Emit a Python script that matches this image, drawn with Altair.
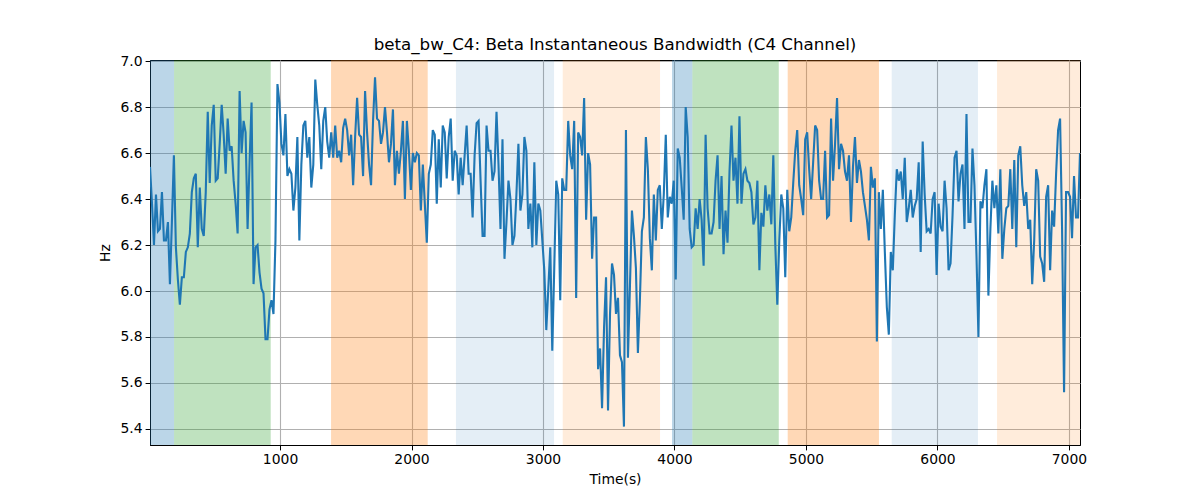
import altair as alt
import numpy as np
import pandas as pd

hz = [
    6.54, 6.38, 6.20, 6.42, 6.26, 6.27, 6.43, 6.22, 6.22, 6.30,
    6.03, 6.30, 6.59, 6.19, 6.05, 5.94, 6.06, 6.06, 6.17, 6.19,
    6.25, 6.43, 6.49, 6.51, 6.19, 6.45, 6.27, 6.24, 6.43, 6.78,
    6.47, 6.72, 6.81, 6.48, 6.49, 6.64, 6.81, 6.68, 6.51, 6.75,
    6.61, 6.63, 6.48, 6.38, 6.25, 6.87, 6.60, 6.74, 6.69, 6.27,
    6.56, 6.82, 6.03, 6.19, 6.20, 6.08, 6.01, 5.99, 5.79, 5.79,
    5.92, 5.96, 5.90, 6.22, 6.90, 6.82, 6.64,
    6.59, 6.77, 6.50, 6.53, 6.51, 6.35, 6.45, 6.67, 6.22, 6.55,
    6.72, 6.74, 6.58, 6.67, 6.45,
    6.55, 6.92, 6.81, 6.72, 6.53, 6.74, 6.80, 6.65, 6.58, 6.69,
    6.58, 6.72, 6.58, 6.61, 6.56, 6.71, 6.75, 6.70, 6.59, 6.68,
    6.46, 6.67, 6.84, 6.68, 6.67, 6.50, 6.87, 6.69, 6.55, 6.46,
    6.74, 6.93, 6.75, 6.74, 6.64, 6.69, 6.80, 6.69, 6.56, 6.64,
    6.79, 6.46, 6.61, 6.51, 6.61, 6.74, 6.40, 6.74, 6.61, 6.44,
    6.60, 6.56, 6.60, 6.59, 6.35, 6.55, 6.38, 6.21, 6.51, 6.55,
    6.70, 6.68, 6.38, 6.66, 6.45, 6.72, 6.69, 6.49, 6.67, 6.75,
    6.48, 6.61, 6.59, 6.42, 6.58, 6.46,
    6.59, 6.72, 6.51, 6.51, 6.32, 6.59, 6.73, 6.74, 6.48, 6.24,
    6.24, 6.72, 6.61, 6.61, 6.48, 6.52, 6.78, 6.55, 6.27, 6.66,
    6.14, 6.30, 6.48, 6.40, 6.20, 6.24, 6.42, 6.64, 6.35, 6.42,
    6.67, 6.61, 6.27, 6.38, 6.19, 6.56, 6.20, 6.38, 6.35, 6.22,
    6.09, 5.83, 6.01, 6.19, 5.74, 6.10, 6.48, 6.42, 5.96, 6.49,
    6.44, 6.44, 6.74, 6.59, 6.53, 6.74, 5.97, 6.69, 6.67, 6.59,
    6.84, 6.31, 6.60, 6.55, 6.14, 6.32, 6.32, 5.66, 5.75, 5.49,
    5.84, 6.06, 5.48, 5.90, 6.12, 6.07, 5.90, 5.97,
    5.72, 5.69, 5.41, 6.70, 5.71, 6.02, 6.35, 6.24, 6.10, 5.73,
    5.96, 6.26, 6.32, 6.67, 6.53, 6.23, 6.09, 6.42, 6.22, 6.44,
    6.46, 6.27, 6.42, 6.68, 6.32, 6.41, 6.38, 6.48, 6.05, 6.62,
    6.58, 6.45, 6.31, 6.80, 6.67, 6.27, 6.19, 6.20, 6.36, 6.27,
    6.40, 6.31, 6.11, 6.68, 6.36, 6.25, 6.25, 6.30, 6.48, 6.59,
    6.27, 6.50, 6.16, 6.35, 6.21, 6.52, 6.72, 6.48, 6.58, 6.38,
    6.76, 6.38, 6.51, 6.53, 6.48, 6.47, 6.43, 6.29, 6.32, 6.48,
    6.09, 6.34, 6.28, 6.46, 6.35, 6.42, 6.29, 6.59,
    6.20, 5.94, 6.22, 6.42, 6.36, 6.06, 6.44, 6.26, 6.32, 6.47,
    6.61, 6.70, 6.46, 6.40, 6.33, 6.66, 6.69, 6.53, 6.40, 6.56,
    6.72, 6.70, 6.48, 6.40, 6.40, 6.61, 6.32, 6.33, 6.75, 6.48,
    6.64, 6.84, 6.53, 6.64, 6.61, 6.52, 6.48, 6.59, 6.30, 6.54,
    6.67, 6.47, 6.57, 6.52, 6.43, 6.37, 6.31, 6.22, 6.54, 6.45,
    6.49, 5.78, 6.43, 6.27, 6.44, 6.17, 5.93, 5.81, 6.17, 6.09,
    6.33, 6.53, 6.48, 6.52, 6.40, 6.58, 6.30, 6.36, 6.44, 6.32,
    6.37, 6.40, 6.56, 6.17, 6.65, 6.42, 6.26,
    6.27, 6.25, 6.40, 6.43, 6.07, 6.38, 6.28, 6.26, 6.48, 6.36,
    6.09, 6.12, 6.33, 6.58, 6.61, 6.39, 6.51, 6.55, 6.27, 6.77,
    6.30, 6.30, 6.62, 6.46, 6.16, 5.80, 6.39, 6.36, 6.46, 6.53,
    5.98, 6.27, 6.48, 6.36, 6.46, 6.25, 6.53, 6.14, 6.27, 6.36,
    6.37, 6.53, 6.27, 6.57, 6.19, 6.59, 6.63, 6.46, 6.37, 6.43,
    6.27, 6.31, 6.03, 6.22, 6.53, 6.48, 6.15, 6.12, 6.04, 6.41,
    6.46, 6.09, 6.35, 6.28, 6.51, 6.70, 6.75, 6.27, 5.56, 6.43,
    6.43, 6.41, 6.23, 6.50, 6.32, 6.32, 6.60,
]
t_first, t_last = 11, 7084
time_s = np.linspace(t_first, t_last, len(hz))

# Shaded segments
band_start = [0, 194, 1388, 2338, 3150, 3981, 4136, 4861, 5652, 6453]
band_end = [194, 929, 2123, 3084, 3890, 4136, 4793, 5555, 6308, 7200]
band_color = ["#1f77b4", "#2ca02c", "#ff7f0e", "#1f77b4", "#ff7f0e",
              "#1f77b4", "#2ca02c", "#ff7f0e", "#1f77b4", "#ff7f0e"]
band_alpha = [0.3, 0.3, 0.3, 0.12, 0.15, 0.3, 0.3, 0.3, 0.12, 0.15]

x_ticks = [1000, 2000, 3000, 4000, 5000, 6000, 7000]
y_ticks = [5.4, 5.6, 5.8, 6.0, 6.2, 6.4, 6.6, 6.8, 7.0]

line_df = pd.DataFrame({"t": time_s, "hz": hz})
band_df = pd.DataFrame({"start": band_start, "end": band_end,
                        "color": band_color, "alpha": band_alpha})

W, H = 930, 385
xs = alt.Scale(domain=[t_first, t_last], nice=False, zero=False)
ys = alt.Scale(domain=[5.33, 7.005], nice=False, zero=False)
x_axis = alt.Axis(values=x_ticks, format="d", titlePadding=6)
y_axis = alt.Axis(values=y_ticks, format=".1f", titlePadding=8)

bands = alt.Chart(band_df).mark_rect(clip=True).encode(
    x=alt.X("start:Q", scale=xs, axis=x_axis, title="Time(s)"),
    x2="end:Q",
    y=alt.value(0),
    y2=alt.value(H),
    color=alt.Color("color:N", scale=None),
    opacity=alt.Opacity("alpha:Q", scale=None),
)

line = alt.Chart(line_df).mark_line(color="#1f77b4", strokeWidth=2.1, clip=True).encode(
    x=alt.X("t:Q", scale=xs, title="Time(s)", axis=x_axis),
    y=alt.Y("hz:Q", scale=ys, title="Hz", axis=y_axis),
)

chart = alt.layer(bands, line).properties(
    width=W, height=H,
    title=alt.TitleParams("beta_bw_C4: Beta Instantaneous Bandwidth (C4 Channel)",
                          font="DejaVu Sans", fontSize=16.7, fontWeight="normal",
                          color="black", offset=0),
    autosize=alt.AutoSizeParams(type="none"),
    padding={"left": 142, "top": 52, "right": 100, "bottom": 52},
).configure_view(
    stroke="black", strokeWidth=1
).configure_axis(
    labelFont="DejaVu Sans", titleFont="DejaVu Sans",
    labelFontSize=13.9, titleFontSize=13.9, titleFontWeight="normal",
    labelColor="black", titleColor="black",
    tickColor="black", tickSize=4.9, tickWidth=1,
    domainColor="black", domainWidth=1,
    grid=True, gridColor="#b0b0b0", gridWidth=1.1,
    labelPadding=3,
)

chart.save("out.html", embed_options={"renderer": "svg", "actions": False})
